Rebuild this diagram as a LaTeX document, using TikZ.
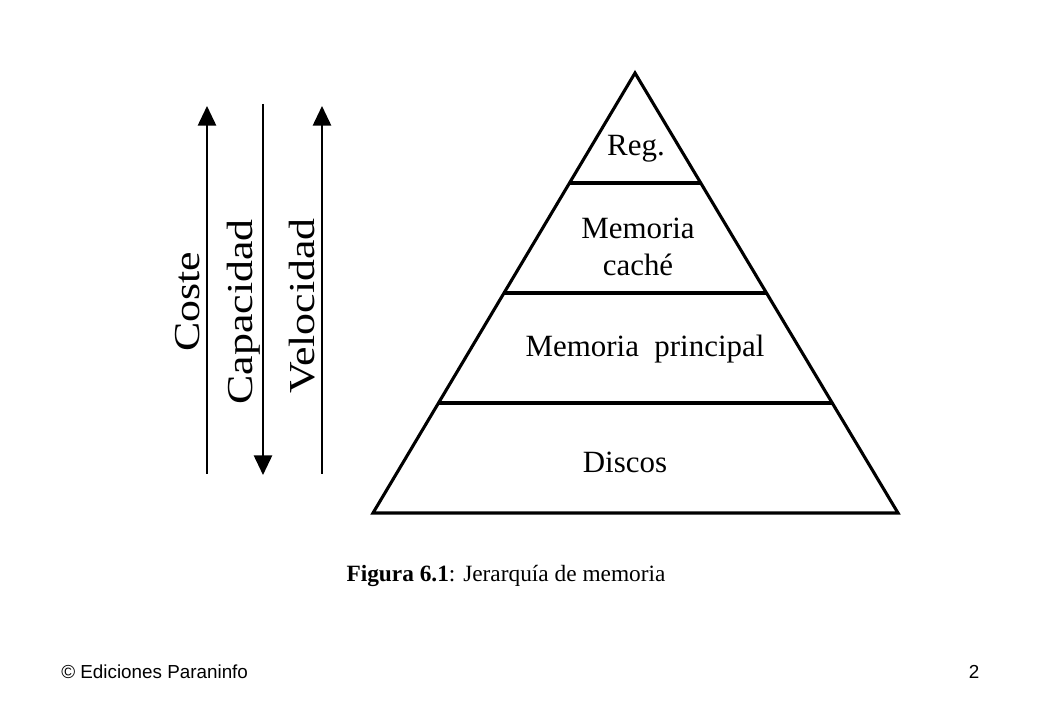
\documentclass[tikz,border=0pt]{standalone}
\usepackage{fontspec}
\setmainfont{Liberation Serif}
\newfontfamily\footfont{Liberation Sans}
\usetikzlibrary{calc,arrows.meta}
\tikzset{
  tier/.style={font=\fontsize{22}{26}\selectfont, align=center, inner sep=0pt},
  axis/.style={font=\fontsize{26}{30}\selectfont, rotate=90, inner sep=0pt},
  scale arrow/.style={line width=1.4pt, -{Triangle[length=14pt,width=13pt]}},
  edge/.style={line width=2.2pt, line join=miter}
}
\newcommand{\widetext}[1]{\scalebox{1.2}[1]{#1}}
\begin{document}
\begin{tikzpicture}[x=0.025cm,y=-0.025cm]
  \useasboundingbox (0,0) rectangle (1040,720);
  \coordinate (apex) at (635,73);
  \coordinate (bl) at (373,513);
  \coordinate (br) at (898,513);
  \draw[edge] (apex) -- (br) -- (bl) -- cycle;
  \foreach \f/\n in {0.25/a,0.5/b,0.75/c}{
    \coordinate (l\n) at ($(apex)!\f!(bl)$);
    \coordinate (r\n) at ($(apex)!\f!(br)$);
    \draw[edge] (l\n) -- (r\n);
  }
  \node[tier] (reg) at (636,149) {Reg.};
  \node[tier] (cache) at (638,247) {Memoria\\caché};
  \node[tier] (main) at (645,349) {Memoria\ \ principal};
  \node[tier] (disk) at (625,462) {Discos};
  % arrows on the left
  \coordinate (c0) at (207,474);
  \coordinate (c1) at (207,106);
  \coordinate (p0) at (263,104);
  \coordinate (p1) at (263,475);
  \coordinate (v0) at (322,474);
  \coordinate (v1) at (322,106);
  \draw[scale arrow] (c0) -- (c1);
  \draw[scale arrow] (p0) -- (p1);
  \draw[scale arrow] (v0) -- (v1);
  \node[axis] (coste) at (188,302) {\widetext{Coste}};
  \node[axis] (capac) at (244,312) {\widetext{Capacidad}};
  \node[axis] (veloc) at (302,306) {\widetext{Velocidad}};
  \node[font=\fontsize{16.6}{20}\selectfont, inner sep=0pt] (caption) at (506,576)
    {\textbf{Figura 6.1}: Jerarquía de memoria};
  \node[font=\footfont\fontsize{13.4}{16}\selectfont, anchor=west, inner sep=0pt] (editor) at (61,672)
    {© Ediciones Paraninfo};
  \node[font=\footfont\fontsize{13.4}{16}\selectfont, inner sep=0pt] (page) at (974,672) {2};
\end{tikzpicture}
\end{document}
